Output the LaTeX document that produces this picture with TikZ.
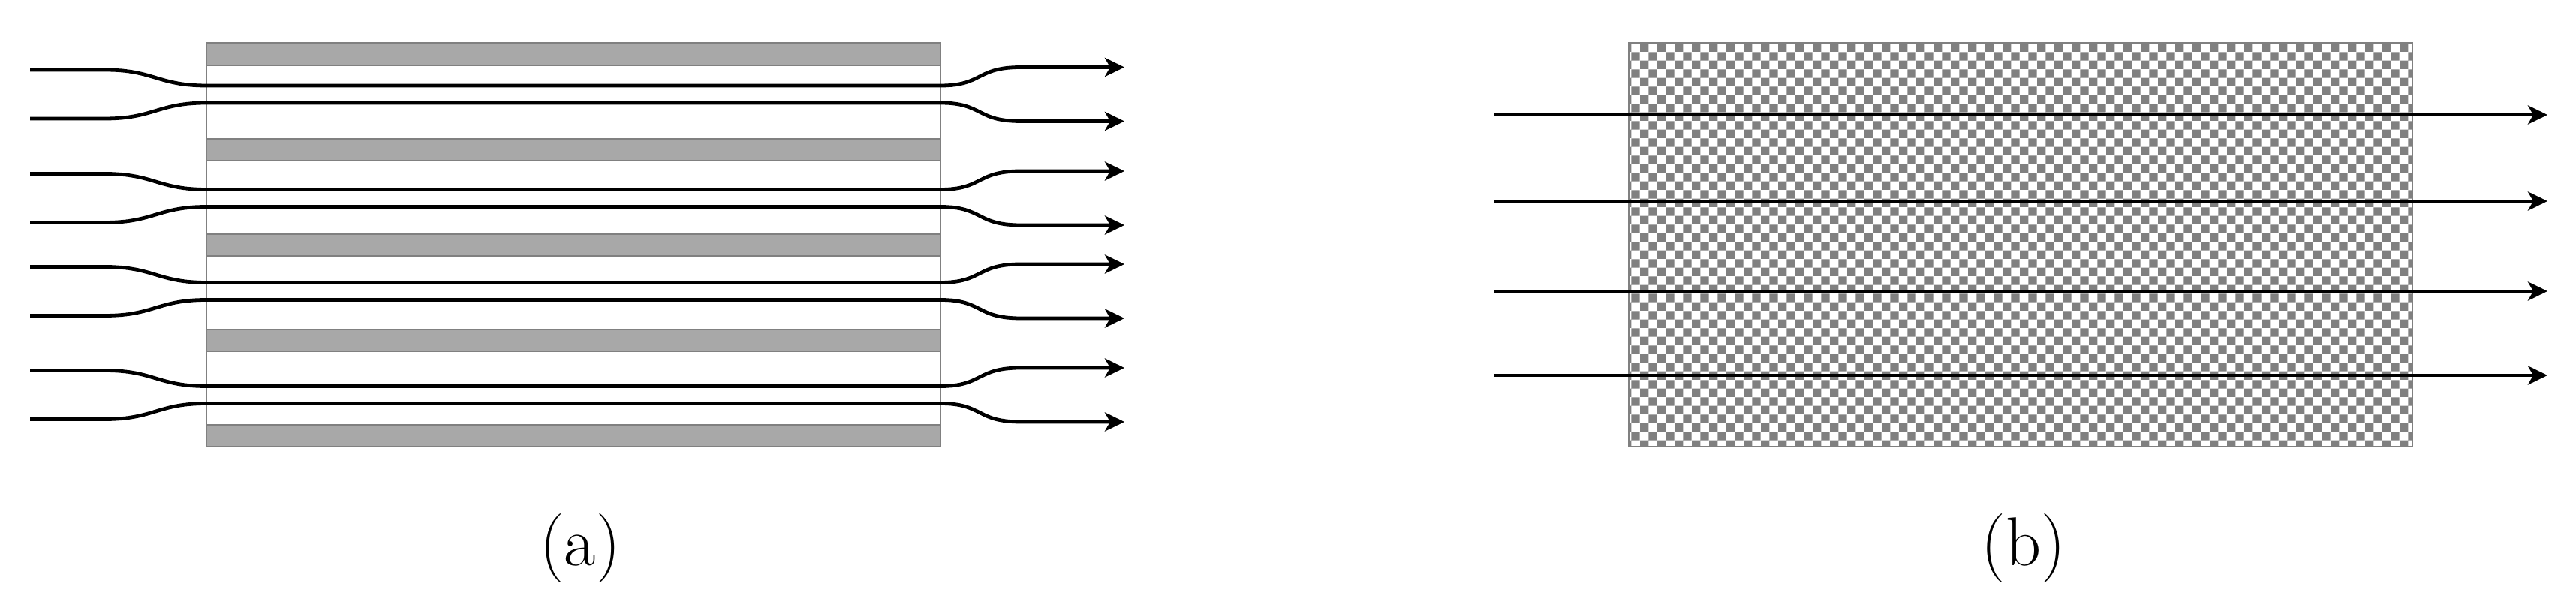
\documentclass[tikz,border=0pt]{standalone}
\usepackage{fontspec}
\usepackage{tikz}
\usetikzlibrary{arrows.meta, patterns}

\definecolor{barfill}{gray}{0.66}

\tikzset{
  flow/.style={line width=2.4pt, -{Stealth[length=13pt, width=12.5pt, inset=3.5pt]}},
  frame/.style={draw=gray, line width=1.35pt},
  bar/.style={frame, fill=barfill},
  subcap/.style={font=\fontsize{46}{50}\selectfont},
}

\begin{document}
\begin{tikzpicture}[x=5pt, y=5pt]
  \useasboundingbox (0,0) rectangle (343.2,80.2);
  % (a) stacked plates
  \draw[frame, fill=white] (27.5,20.7) rectangle (125.3,74.5);
  \foreach \k in {0,...,4}
    \draw[bar] (27.5,20.7+12.7*\k) rectangle (125.3,23.6+12.7*\k);
  \foreach \yc in {67.65,53.8,41.4,27.6}
    \foreach \s in {1,-1} {
      \pgfmathsetmacro{\yl}{\yc+3.25*\s}
      \pgfmathsetmacro{\yi}{\yc+1.15*\s}
      \pgfmathsetmacro{\yr}{\yc+3.6*\s}
      \draw[flow] (4,\yl) -- (14,\yl) .. controls (20.5,\yl) and (21,\yi) .. (27.5,\yi)
        -- (125.3,\yi) .. controls (131,\yi) and (130,\yr) .. (136,\yr) -- (149.8,\yr);
    }
  \node[subcap] (capa) at (77.3,7.1) {(a)};
  % (b) porous block
  \draw[frame, pattern=checkerboard, pattern color=gray] (217,20.7) rectangle (321.4,74.5);
  \foreach \y in {64.9,53.4,41.4,30.2}
    \draw[flow] (199.1,\y) -- (339.4,\y);
  \node[subcap] (capb) at (269.6,7.1) {(b)};
\end{tikzpicture}
\end{document}
